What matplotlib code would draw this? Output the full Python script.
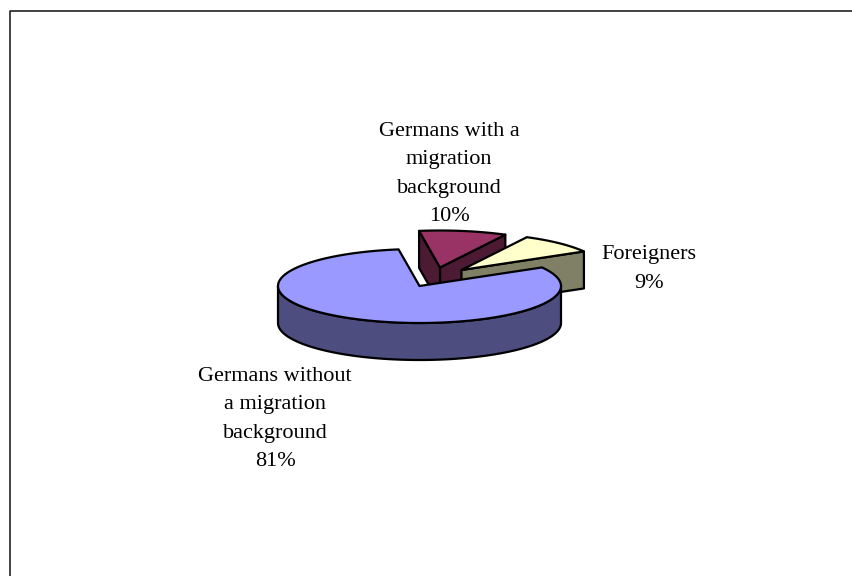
import numpy as np
import matplotlib
matplotlib.use("Agg")
import matplotlib.pyplot as plt
from matplotlib.patches import Polygon

labels = ["Germans without\na migration\nbackground\n81%", "Foreigners\n9%", "Germans with a\nmigration\nbackground\n10%"]
values = [81, 9, 10]
top_colors = ["#9999FF", "#FFFFCC", "#993366"]
side_colors = ["#4D4D80", "#808066", "#4D1A33"]

# pie geometry in pixels
cx, cy = 419.5, 286
rx, ry = 141.5, 37
depth = 37
start = 98.5
explode = [(0, 0), (42, -16), (20.5, -18.5)]
label_pos = [(275, 419), (649, 269), (449, 174)]

plt.rcParams["font.family"] = ["Liberation Serif", "DejaVu Serif"]

fig = plt.figure(figsize=(8.52, 5.76), dpi=100)
ax = fig.add_axes([0, 0, 1, 1])
ax.set_xlim(0, 852)
ax.set_ylim(576, 0)
ax.axis("off")

# chart frame, only top and left fall inside the image
ax.plot([852, 9.5, 9.5], [10.5, 10.5, 576], color="#222222", lw=1.2, solid_capstyle="butt")


def edge(a0, a1, ox, oy, dz=0):
    t = np.radians(np.linspace(a0, a1, 200))
    return np.column_stack([cx + ox + rx * np.cos(t), cy + oy - ry * np.sin(t) + dz])


def add_poly(pts, color):
    ax.add_patch(Polygon(pts, closed=True, facecolor=color, edgecolor="black", lw=1.6, joinstyle="round"))


# angle span of every slice, going round from the start angle
spans = []
a = start
for v in values:
    spans.append((a, a + v * 3.6))
    a += v * 3.6

# cut faces seen by the viewer for each slice: 0 = first edge, -1 = last edge
faces = {0: [], 1: [0], 2: [0, -1]}

# back slices first, big one last because it sits in front
for i in [2, 1, 0]:
    a0, a1 = spans[i]
    ox, oy = explode[i]
    apex = np.array([cx + ox, cy + oy])
    arc = edge(a0, a1, ox, oy)
    low = np.array([0, depth])
    for f in faces[i]:
        add_poly([apex, arc[f], arc[f] + low, apex + low], side_colors[i])
    if i == 0:
        # outer wall, only the part facing the viewer
        wall = edge(180, 360, ox, oy)
        add_poly(np.vstack([wall, (wall + low)[::-1]]), side_colors[i])
    add_poly(np.vstack([[apex], arc]), top_colors[i])

for lab, (x, y) in zip(labels, label_pos):
    ax.text(x, y, lab, ha="center", va="center", fontsize=16, linespacing=1.67, color="black")

fig.savefig("out.png", dpi=100)
